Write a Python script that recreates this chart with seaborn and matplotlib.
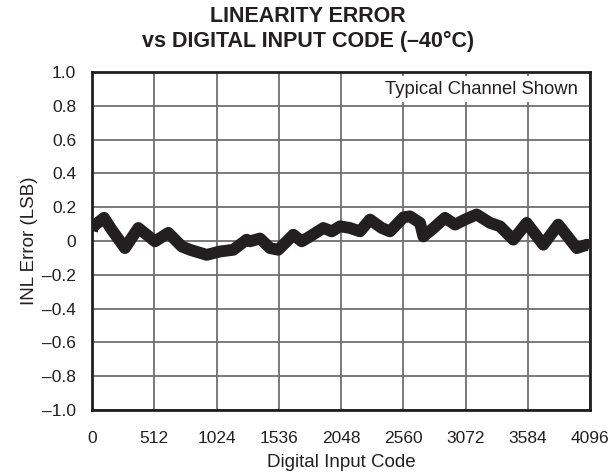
import matplotlib
matplotlib.use("Agg")
import matplotlib.pyplot as plt
import seaborn as sns
import pandas as pd

codes = [0, 11, 99, 162, 271, 381, 518, 628, 738, 806, 943, 1053, 1162, 1272, 1300,
         1382, 1464, 1532, 1656, 1725, 1793, 1903, 1972, 2040, 2122, 2204, 2286, 2383,
         2451, 2561, 2615, 2698, 2725, 2794, 2903, 2986, 3068, 3164, 3274, 3356, 3465,
         3575, 3712, 3835, 3987, 4069, 4095]
inl = [0.06, 0.087, 0.137, 0.067, -0.042, 0.077, -0.002, 0.048, -0.032, -0.052, -0.082,
       -0.062, -0.052, 0.008, -0.002, 0.015, -0.042, -0.052, 0.037, -0.002, 0.027, 0.077,
       0.057, 0.087, 0.077, 0.057, 0.127, 0.077, 0.057, 0.14, 0.146, 0.107, 0.027, 0.067,
       0.137, 0.097, 0.127, 0.157, 0.107, 0.087, 0.008, 0.107, -0.022, 0.097, -0.042,
       -0.022, -0.03]

xticks = [0, 512, 1024, 1536, 2048, 2560, 3072, 3584, 4096]
yticks = [-1.0, -0.8, -0.6, -0.4, -0.2, 0.0, 0.2, 0.4, 0.6, 0.8, 1.0]

df = pd.DataFrame({"code": codes, "inl": inl})

sns.set_theme(style="white")
plt.rcParams['font.family'] = ['Liberation Sans', 'DejaVu Sans']

ink = "#231f20"
fig = plt.figure(figsize=(6.08, 4.74), dpi=100)
ax = fig.add_axes([92/608, 1-410/474, 498/608, 338/474])

sns.lineplot(data=df, x="code", y="inl", ax=ax, color=ink, linewidth=8.5,
             solid_joinstyle="round", solid_capstyle="butt")

ax.set_xlim(0, 4096)
ax.set_ylim(-1.0, 1.0)
ax.set_xticks(xticks)
ax.set_yticks(yticks)
ax.set_xticklabels([str(t) for t in xticks])
ax.set_yticklabels([("\u2013" if t < 0 else "") + f"{abs(t):.1f}" if abs(t) > 1e-9 else "0" for t in yticks])
ax.tick_params(axis="x", length=0, labelsize=12.5, colors=ink, pad=15)
ax.tick_params(axis="y", length=0, labelsize=12.5, colors=ink, pad=11.5)
ax.grid(True, color="#707070", linewidth=1.3)
for s in ax.spines.values():
    s.set_color(ink)
    s.set_linewidth(2)
ax.set_xlabel("Digital Input Code", fontsize=13.5, color=ink, labelpad=6)
ax.set_ylabel("INL Error (LSB)", fontsize=13.5, color=ink, labelpad=3)
ax.text((578-92)/498, (410-89)/338, "Typical Channel Shown", transform=ax.transAxes,
        ha="right", va="center", fontsize=13.3, color=ink,
        bbox=dict(facecolor="white", edgecolor="none", pad=3))
fig.text(308/608, 1-29/474, "LINEARITY ERROR\nvs DIGITAL INPUT CODE (\u201340\u00b0C)",
         ha="center", va="center", fontsize=15.5, fontweight="bold", color=ink,
         linespacing=1.25)

fig.savefig("out.png", dpi=100)
